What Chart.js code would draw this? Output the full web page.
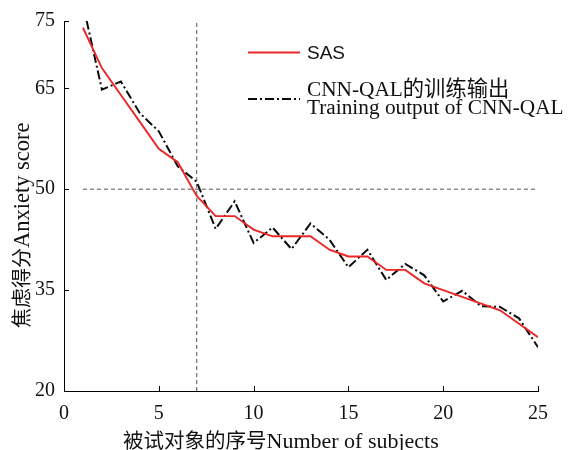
<!DOCTYPE html>
<html>
<head>
<meta charset="utf-8">
<script src="https://cdn.jsdelivr.net/npm/chart.js@4/dist/chart.umd.min.js"></script>
<style>
  html, body { margin: 0; padding: 0; background: #fff; }
  #wrap { width: 571px; height: 450px; }
</style>
</head>
<body>
<div id="wrap"><canvas id="chart" width="571" height="450"></canvas></div>
<script>
// Subject index (x) and the two score series (y)
const subjects = [1, 2, 3, 4, 5, 6, 7, 8, 9, 10, 11, 12, 13, 14, 15, 16, 17, 18, 19, 20, 21, 22, 23, 24, 25];
const sasScores = [74, 68, 64, 60, 56, 54, 49, 46, 46, 44, 43, 43, 43, 41, 40, 40, 38, 38, 36, 35, 34, 33, 32, 30, 28];
const cnnOutput = [77.5, 64.8, 66, 61.3, 58.6, 53.4, 51.1, 44.1, 48.2, 42, 44.3, 41.1, 44.9, 42.5, 38.4, 41, 36.5, 38.9, 37.2, 33.3, 34.9, 32.6, 32.5, 30.8, 26.5];

// Axis ticks
const xTicks = [0, 5, 10, 15, 20, 25];
const yTicks = [20, 35, 50, 65, 75];

// Reference (threshold) lines
const thresholdScore = 50;
const thresholdSubject = 7;

// Text
const sasLabel = 'SAS';
const cnnLabelLines = [['CNN-QAL', '的训练输出'], ['Training output of CNN-QAL']];
const xTitle = ['被试对象的序号', 'Number of subjects'];
const yTitle = ['焦虑得分', 'Anxiety score'];

const SERIF = "'Liberation Serif', 'Times New Roman', serif";
const SANS = "'Liberation Sans', Arial, sans-serif";
const CJK = "'Noto Sans CJK SC', 'Noto Sans CJK JP', sans-serif";
const RED = '#ec2626';
const BLACK = '#0a0a0a';
const CNN_DASH = [9, 3, 2, 3];

const xMin = 0, xMax = 25, yMin = 20, yMax = 75;

function toPoints(xs, ys) { return xs.map((x, i) => ({ x: x, y: ys[i] })); }

// Draw a row of text pieces, each with its own font, starting at (x, y) on the alphabetic baseline
function drawPieces(ctx, pieces, x, y) {
  ctx.textBaseline = 'alphabetic';
  ctx.textAlign = 'left';
  let cx = x;
  for (const p of pieces) {
    ctx.font = p.font;
    ctx.fillText(p.text, cx, y);
    cx += ctx.measureText(p.text).width;
  }
}

const isCJK = s => /[\u3400-\u9fff]/.test(s);

const decorations = {
  id: 'decorations',
  afterDraw(chart) {
    const ctx = chart.ctx;
    const xs = chart.scales.x, ys = chart.scales.y;
    const area = chart.chartArea;
    ctx.save();

    // inward tick marks
    ctx.strokeStyle = '#000';
    ctx.lineWidth = 1;
    ctx.setLineDash([]);
    ctx.beginPath();
    xTicks.forEach(v => {
      const px = Math.round(xs.getPixelForValue(v)) + 0.5;
      ctx.moveTo(px, area.bottom);
      ctx.lineTo(px, area.bottom - 5);
    });
    yTicks.forEach(v => {
      const py = Math.round(ys.getPixelForValue(v)) + 0.5;
      ctx.moveTo(area.left, py);
      ctx.lineTo(area.left + 5, py);
    });
    ctx.stroke();

    ctx.fillStyle = '#111';

    // x-axis title
    drawPieces(ctx, [
      { text: xTitle[0], font: '20.5px ' + CJK },
      { text: xTitle[1], font: '22px ' + SERIF }
    ], 123, 448);

    // y-axis title, rotated
    ctx.save();
    ctx.translate(28.5, 328);
    ctx.rotate(-Math.PI / 2);
    drawPieces(ctx, [
      { text: yTitle[0], font: '20px ' + CJK },
      { text: yTitle[1], font: '22.5px ' + SERIF }
    ], 0, 0);
    ctx.restore();

    // legend
    const ds = chart.data.datasets;
    ctx.lineWidth = ds[0].borderWidth;
    ctx.strokeStyle = ds[0].borderColor;
    ctx.beginPath();
    ctx.moveTo(248, 52.5);
    ctx.lineTo(300, 52.5);
    ctx.stroke();
    drawPieces(ctx, [{ text: sasLabel, font: '19px ' + SANS }], 307, 58.5);

    ctx.lineWidth = ds[1].borderWidth;
    ctx.strokeStyle = ds[1].borderColor;
    ctx.setLineDash(ds[1].borderDash);
    ctx.beginPath();
    ctx.moveTo(248, 99);
    ctx.lineTo(300, 99);
    ctx.stroke();
    ctx.setLineDash([]);
    const lineBaselines = [95.5, 114];
    cnnLabelLines.forEach((parts, i) => {
      drawPieces(ctx, parts.map(t => ({ text: t, font: '21.3px ' + (isCJK(t) ? CJK : SERIF) })), 307, lineBaselines[i]);
    });

    ctx.restore();
  }
};

const tickFont = { family: SERIF, size: 20 };

new Chart(document.getElementById('chart'), {
  type: 'line',
  data: {
    datasets: [
      {
        label: sasLabel,
        data: toPoints(subjects, sasScores),
        borderColor: RED,
        borderWidth: 1.9,
        pointRadius: 0,
        tension: 0,
        fill: false
      },
      {
        label: cnnLabelLines.map(p => p.join('')).join(' '),
        data: toPoints(subjects, cnnOutput),
        borderColor: BLACK,
        borderWidth: 2,
        borderDash: CNN_DASH,
        pointRadius: 0,
        tension: 0,
        fill: false
      },
      {
        label: 'threshold score',
        data: [{ x: subjects[0], y: thresholdScore }, { x: subjects[subjects.length - 1], y: thresholdScore }],
        borderColor: '#555',
        borderWidth: 1,
        borderDash: [4, 3],
        pointRadius: 0,
        fill: false
      },
      {
        label: 'threshold subject',
        data: [{ x: thresholdSubject, y: yMin }, { x: thresholdSubject, y: yMax }],
        borderColor: '#555',
        borderWidth: 1,
        borderDash: [4, 3],
        pointRadius: 0,
        fill: false
      }
    ]
  },
  options: {
    responsive: false,
    animation: false,
    devicePixelRatio: 1,
    layout: { padding: { top: 21, right: 33, left: 0, bottom: 0 } },
    plugins: { legend: { display: false }, tooltip: { enabled: false } },
    scales: {
      x: {
        type: 'linear',
        min: xMin,
        max: xMax,
        afterBuildTicks: s => { s.ticks = xTicks.map(v => ({ value: v })); },
        afterFit: s => { s.height = 59; },
        grid: { display: false, drawTicks: false },
        border: { display: true, color: '#000', width: 1 },
        ticks: { font: tickFont, color: '#111', padding: 11, maxRotation: 0, autoSkip: false }
      },
      y: {
        type: 'linear',
        min: yMin,
        max: yMax,
        afterBuildTicks: s => { s.ticks = yTicks.map(v => ({ value: v })); },
        afterFit: s => { s.width = 64; },
        grid: { display: false, drawTicks: false },
        border: { display: true, color: '#000', width: 1 },
        ticks: { font: tickFont, color: '#111', padding: 9, autoSkip: false }
      }
    }
  },
  plugins: [decorations]
});
</script>
</body>
</html>
